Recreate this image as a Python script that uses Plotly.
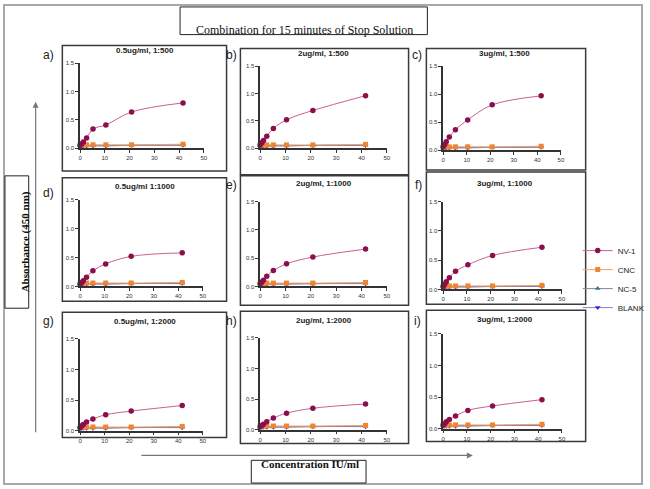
import plotly.graph_objects as go

W, H = 650, 489

# ---------------- data ----------------
conc = [0, 0.65, 1.3, 2.6, 5.2, 10.4, 20.8, 41.6]

panel_titles = ["0.5ug/ml, 1:500", "2ug/ml, 1:500", "3ug/ml, 1:500",
                "0.5ug/ml 1:1000", "2ug/ml, 1:1000", "3ug/ml, 1:1000",
                "0.5ug/ml, 1:2000", "2ug/ml, 1:2000", "3ug/ml, 1:2000"]
panel_letters = ["a)", "b)", "c)", "d)", "e)", "f)", "g)", "h)", "i)"]

nv1_a = [0.05, 0.08, 0.11, 0.18, 0.34, 0.41, 0.64, 0.80]
nv1_b = [0.06, 0.10, 0.14, 0.22, 0.36, 0.52, 0.69, 0.96]
nv1_c = [0.06, 0.10, 0.15, 0.235, 0.365, 0.54, 0.81, 0.97]
nv1_d = [0.04, 0.07, 0.10, 0.16, 0.27, 0.39, 0.52, 0.58]
nv1_e = [0.05, 0.08, 0.11, 0.18, 0.28, 0.40, 0.52, 0.66]
nv1_f = [0.05, 0.09, 0.13, 0.20, 0.31, 0.42, 0.58, 0.72]
nv1_g = [0.05, 0.08, 0.10, 0.14, 0.19, 0.26, 0.32, 0.41]
nv1_h = [0.05, 0.07, 0.09, 0.13, 0.19, 0.27, 0.35, 0.42]
nv1_i = [0.06, 0.08, 0.11, 0.145, 0.20, 0.29, 0.36, 0.46]
nv1_all = [nv1_a, nv1_b, nv1_c, nv1_d, nv1_e, nv1_f, nv1_g, nv1_h, nv1_i]

cnc = [0.06, 0.06, 0.06, 0.06, 0.06, 0.06, 0.06, 0.07]
nc5 = [0.05, 0.05, 0.05, 0.05, 0.05, 0.05, 0.05, 0.06]
blank = [0.04, 0.04, 0.04, 0.04, 0.04, 0.04, 0.05, 0.05]

y_ticks = [0, 0.5, 1.0, 1.5]
y_ticklabels = ["0.0", "0.5", "1.0", "1.5"]
x_ticks = [0, 10, 20, 30, 40, 50]

# ---------------- layout geometry (pixels) ----------------
areas = [(79, 204, 147, 61), (261, 389, 147, 64), (446, 565, 149, 64),
         (79, 203, 287, 199), (261, 389, 287, 201), (446, 566, 290, 201),
         (79, 203, 433, 340), (261, 389, 432, 339), (446, 566, 431, 335)]
boxes = [(61, 43, 227, 170), (241, 46, 411, 174), (429, 46, 590, 169),
         (61, 177, 227, 302), (241, 175, 411, 306), (429, 171, 590, 305),
         (61, 313, 227, 440), (241, 312, 411, 446), (429, 311, 590, 444)]
title_pos = [(145, 48), (325, 51), (508, 51), (145, 186), (325, 183), (508, 183),
             (145, 322), (325, 321), (508, 320)]
letter_pos = [(47, 53), (232, 53), (420, 53), (47, 192), (232, 184), (421, 184),
              (47, 322), (232, 322), (420, 322)]

def px(x):
    return x / W

def py(y):
    return 1 - y / H

fig = go.Figure()
layout = dict(width=W, height=H, margin=dict(l=0, r=0, t=0, b=0),
              paper_bgcolor="white", plot_bgcolor="rgba(0,0,0,0)",
              showlegend=True)

series = [
    ("NV-1", "#8a0f4c", "#c8628e", "circle", 5.5),
    ("CNC", "#f08430", "#f5a060", "square", 5),
    ("NC-5", "#2f7f80", "#8a7fa0", "triangle-up", 5),
    ("BLANK", "#2a2ae0", "#8a80b0", "triangle-down", 5),
]

for i in range(9):
    xa = "x" if i == 0 else f"x{i+1}"
    ya = "y" if i == 0 else f"y{i+1}"
    xl, xr, y0, y1 = areas[i]
    axis_common = dict(showgrid=False, zeroline=False, showline=True,
                       linecolor="#333", linewidth=1.5, ticks="outside",
                       ticklen=3, tickwidth=1, tickcolor="#333",
                       tickfont=dict(family="Arial", size=6, color="#333"))
    layout["xaxis" if i == 0 else f"xaxis{i+1}"] = dict(
        domain=[px(xl), px(xr)], range=[0, 50], anchor=ya,
        tickvals=x_ticks, **axis_common)
    layout["yaxis" if i == 0 else f"yaxis{i+1}"] = dict(
        domain=[py(y0), py(y1)], range=[0, 1.5], anchor=xa,
        tickvals=y_ticks, ticktext=y_ticklabels, **axis_common)

    data_sets = [nv1_all[i], cnc, nc5, blank]
    for k in [3, 2, 1, 0]:
        name, mcol, lcol, sym, msz = series[k]
        fig.add_trace(go.Scatter(
            x=conc, y=data_sets[k], mode="lines+markers", name=name,
            xaxis=xa, yaxis=ya, cliponaxis=False,
            line=dict(color=lcol, width=1, shape="spline"),
            marker=dict(color=mcol, symbol=sym, size=msz),
            showlegend=(i == 0), legendrank=k))

shapes = []
annotations = []
for i in range(9):
    x0, y0b, x1, y1b = boxes[i]
    shapes.append(dict(type="rect", xref="paper", yref="paper",
                       x0=px(x0), x1=px(x1), y0=py(y1b), y1=py(y0b),
                       line=dict(color="#3a3a3a", width=1.5)))
    tx, ty = title_pos[i]
    annotations.append(dict(x=px(tx), y=py(ty), xref="paper", yref="paper",
                            text=f"<b>{panel_titles[i]}</b>", showarrow=False,
                            font=dict(family="Arial", size=8, color="#222"),
                            xanchor="center", yanchor="middle"))
    lx, ly = letter_pos[i]
    annotations.append(dict(x=px(lx), y=py(ly), xref="paper", yref="paper",
                            text=panel_letters[i], showarrow=False,
                            font=dict(family="Arial", size=12, color="#222"),
                            xanchor="center", yanchor="middle"))

# outer border
shapes.append(dict(type="rect", xref="paper", yref="paper",
                   x0=px(2), x1=px(647), y0=py(487), y1=py(2),
                   line=dict(color="#a8a8a8", width=2)))
# main title box
shapes.append(dict(type="rect", xref="paper", yref="paper",
                   x0=px(180), x1=px(430), y0=py(32), y1=py(4),
                   line=dict(color="#222", width=1)))
annotations.append(dict(x=px(306), y=py(18), xref="paper", yref="paper",
                        text="Combination for 15 minutes of Stop Solution",
                        showarrow=False,
                        font=dict(family="Liberation Serif", size=12, color="#111")))
# y label box
shapes.append(dict(type="rect", xref="paper", yref="paper",
                   x0=px(3), x1=px(27), y0=py(309), y1=py(175),
                   line=dict(color="#222", width=1)))
annotations.append(dict(x=px(15), y=py(242), xref="paper", yref="paper",
                        text="<b>Absorbance (450 nm)</b>", textangle=-90,
                        showarrow=False,
                        font=dict(family="Liberation Serif", size=11, color="#111")))
# x label box
shapes.append(dict(type="rect", xref="paper", yref="paper",
                   x0=px(252), x1=px(368), y0=py(486), y1=py(463),
                   line=dict(color="#222", width=1)))
annotations.append(dict(x=px(311), y=py(474.5), xref="paper", yref="paper",
                        text="<b>Concentration IU/ml</b>", showarrow=False,
                        font=dict(family="Liberation Serif", size=11, color="#111")))
# arrows (tail offsets in pixels)
annotations.append(dict(x=px(34), y=py(100), ax=0, ay=332,
                        xref="paper", yref="paper",
                        showarrow=True, arrowhead=2, arrowsize=1, arrowwidth=1.2,
                        arrowcolor="#777", text=""))
annotations.append(dict(x=px(476), y=py(458), ax=-333, ay=0,
                        xref="paper", yref="paper",
                        showarrow=True, arrowhead=2, arrowsize=1, arrowwidth=1.2,
                        arrowcolor="#777", text=""))

layout["shapes"] = shapes
layout["annotations"] = annotations
layout["legend"] = dict(x=px(582), y=py(236), xanchor="left", yanchor="top",
                        font=dict(family="Arial", size=8, color="#222"),
                        bgcolor="rgba(0,0,0,0)", itemwidth=30,
                        tracegroupgap=0)
fig.update_layout(**layout)
fig.write_html("out.html")
